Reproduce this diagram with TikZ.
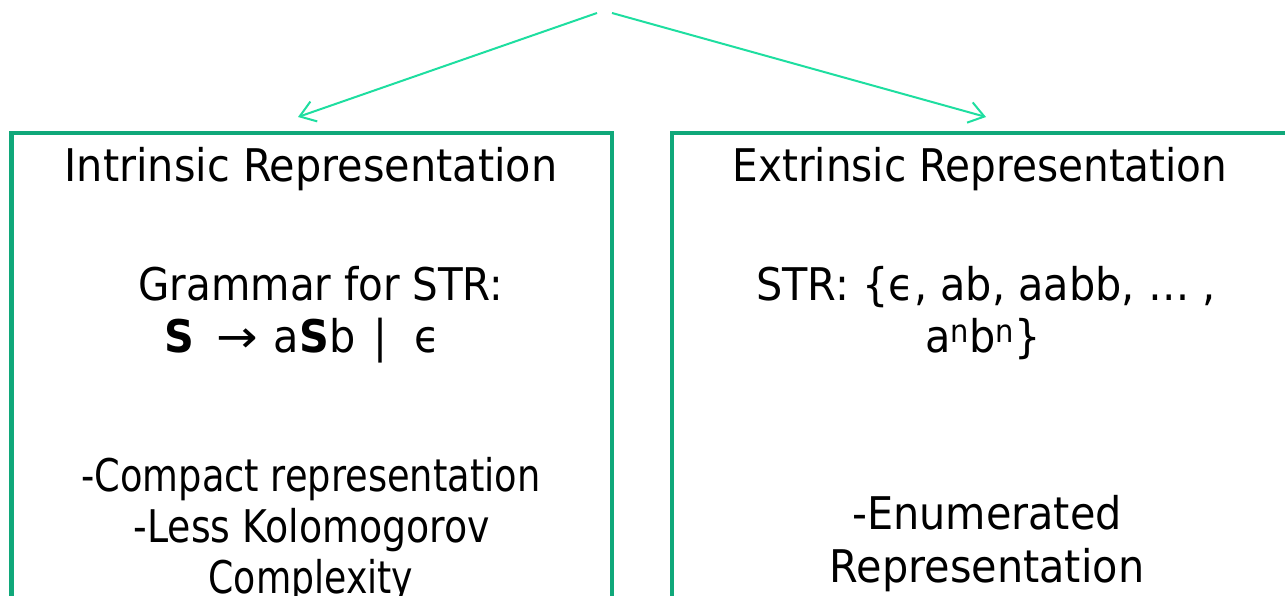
\documentclass[tikz,border=0pt]{standalone}
\usepackage{fontspec}
\setmainfont{DejaVu Sans}[FakeStretch=0.92]
\usetikzlibrary{arrows.meta}
\definecolor{boxgreen}{RGB}{16,168,122}
\definecolor{arrowgreen}{RGB}{30,222,160}
\tikzset{
  lbl/.style={anchor=base, inner sep=0pt, font=\fontsize{45}{52}\selectfont},
  squeeze/.style={transform shape, xscale=#1},
  panel/.style={draw=boxgreen, line width=4.5pt},
  link/.style={draw=arrowgreen, line width=2pt, -{Straight Barb[length=15pt,width=21pt,line width=2pt]}}
}
\begin{document}
\begin{tikzpicture}[x=1pt,y=-1pt]
\useasboundingbox (0,0) rectangle (1285,596);
\clip (0,0) rectangle (1285,596);
% panels
\draw[panel] (11.5,133) rectangle (612,598);
\draw[panel] (672,133) rectangle (1300,598);
% connectors
\coordinate (srcL) at (597,13);
\coordinate (srcR) at (612,13);
\coordinate (tgtL) at (298,117);
\coordinate (tgtR) at (986,117);
\draw[link] (srcL) -- (tgtL);
\draw[link] (srcR) -- (tgtR);
% left panel texts
\node[lbl] (intr) at (311,182) {Intrinsic Representation};
\node[lbl, squeeze=0.976] (gram) at (321,300) {Grammar for STR:};
\node[lbl] (rule) at (302,352) {\textbf{S}\hspace{0.5em}\scalebox{1.2}[1]{→}\hspace{0.35em}a\textbf{S}b\hspace{0.4em}|\hspace{0.6em}ϵ};
\node[lbl, squeeze=0.888] (comp) at (311,491) {-Compact representation};
\node[lbl, squeeze=0.915] (less) at (312,542) {-Less Kolomogorov};
\node[lbl, squeeze=0.875] (cplx) at (311,593) {Complexity};
% right panel texts
\node[lbl, squeeze=0.98] (extr) at (980,182) {Extrinsic Representation};
\node[lbl] (strs) at (986,300) {STR: \{ϵ, ab, aabb, … ,};
\node[lbl] (anbn) at (983,352) {a\textsuperscript{n}b\textsuperscript{n}\}};
\node[lbl] (enum) at (987,529) {-Enumerated};
\node[lbl] (repr) at (987,582) {Representation};
\end{tikzpicture}
\end{document}
